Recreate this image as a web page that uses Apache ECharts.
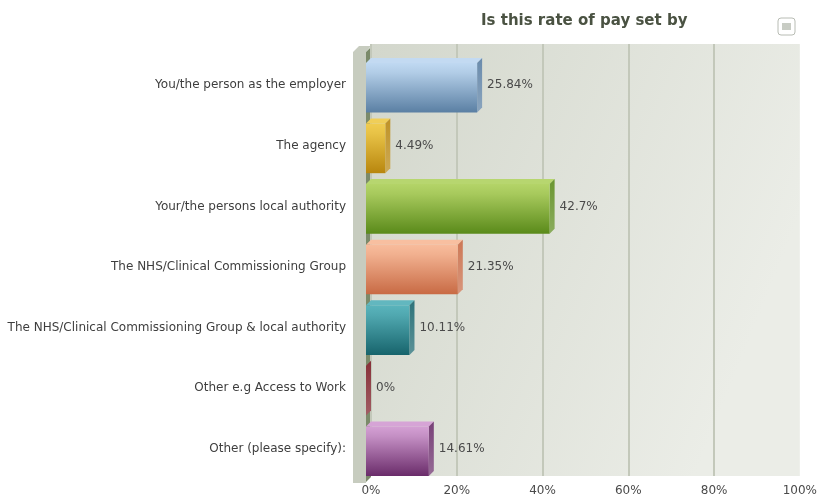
<!DOCTYPE html>
<html>
<head>
<meta charset="utf-8">
<script src="https://cdn.jsdelivr.net/npm/echarts@6/dist/echarts.min.js"></script>
<style>
  html, body { margin: 0; padding: 0; background: #ffffff; }
  #chart { width: 820px; height: 497px; }
</style>
</head>
<body>
<div id="chart"></div>
<script>
// Answer categories, top to bottom
const categories = [
  'You/the person as the employer',
  'The agency',
  'Your/the persons local authority',
  'The NHS/Clinical Commissioning Group',
  'The NHS/Clinical Commissioning Group & local authority',
  'Other e.g Access to Work',
  'Other (please specify):'
];
// Share of responses, percent
const shares = [25.84, 4.49, 42.7, 21.35, 10.11, 0, 14.61];
// Bar colours: [light, dark]
const barColors = [
  ['#c0d9f2', '#5a7fa3'],
  ['#f0cc50', '#b8860e'],
  ['#b4d468', '#5a8a1a'],
  ['#f8bc9c', '#c86a44'],
  ['#5ab4bc', '#17646c'],
  ['#d0505a', '#7a1822'],
  ['#d4a0d4', '#6a2c6a']
];
const xTicks = [0, 20, 40, 60, 80, 100];

const DEPTH = 5;
const FONT = 'DejaVu Sans, Verdana, sans-serif';

const chart = echarts.init(document.getElementById('chart'), null, { renderer: 'canvas' });

// 3D-looking bar: front face, top face, right side face and value label
function renderBar(params, api) {
  const idx = api.value(0);
  const val = api.value(1);
  const start = api.coord([0, idx]);
  const end = api.coord([val, idx]);
  const band = api.size([0, 1])[1];
  const d = DEPTH;
  const h = band * 0.82;
  const x0 = start[0];
  const x1 = end[0];
  const y0 = start[1] - h / 2 + d / 2;
  const y1 = y0 + h;
  const c = barColors[idx];
  return {
    type: 'group',
    children: [
      {
        type: 'polygon',
        shape: { points: [[x0, y0], [x0 + d, y0 - d], [x1 + d, y0 - d], [x1, y0]] },
        style: { fill: echarts.color.lift(c[0], 0.05) }
      },
      {
        type: 'polygon',
        shape: { points: [[x1, y0], [x1 + d, y0 - d], [x1 + d, y1 - d], [x1, y1]] },
        style: {
          fill: new echarts.graphic.LinearGradient(0, 0, 0, 1, [
            { offset: 0, color: echarts.color.lift(c[1], 0.1) },
            { offset: 1, color: echarts.color.lift(c[1], 0.3) }
          ])
        }
      },
      {
        type: 'rect',
        shape: { x: x0, y: y0, width: Math.max(x1 - x0, 0), height: h },
        style: {
          fill: new echarts.graphic.LinearGradient(0, 0, 0, 1, [
            { offset: 0, color: c[0] },
            { offset: 0.2, color: echarts.color.lerp(0.15, [c[0], c[1]]) },
            { offset: 1, color: c[1] }
          ])
        }
      },
      {
        type: 'text',
        style: {
          x: x1 + d + 5,
          y: (y0 + y1) / 2 - d / 2,
          text: val + '%',
          fill: '#4a4a4a',
          font: '12px ' + FONT,
          verticalAlign: 'middle',
          align: 'left'
        }
      }
    ]
  };
}

const option = {
  animation: false,
  backgroundColor: '#ffffff',
  title: {
    text: 'Is this rate of pay set by',
    left: 476,
    top: 9,
    textStyle: { fontFamily: FONT, fontSize: 15, fontWeight: 'bold', color: '#4a5242' }
  },
  graphic: [
    // menu button
    {
      type: 'rect',
      shape: { x: 778, y: 18, width: 17, height: 17, r: 3 },
      style: { fill: '#ffffff', stroke: '#b8bcb4', lineWidth: 1 }
    },
    {
      type: 'rect',
      shape: { x: 782, y: 23, width: 9, height: 7 },
      style: { fill: '#c8ccc4' }
    },
    // left side wall of the plot box
    {
      type: 'polygon',
      shape: { points: [[353, 52], [359, 46], [371, 46], [366, 52], [366, 483], [353, 483]] },
      style: { fill: '#c7ccbf' }
    },
    {
      type: 'polygon',
      shape: { points: [[366, 52], [371, 47], [371, 477], [366, 482]] },
      style: { fill: '#7b8a6a' }
    }
  ],
  grid: [
    {
      // back plane
      left: 371, right: 19, top: 44, bottom: 20,
      show: true,
      borderWidth: 0,
      backgroundColor: new echarts.graphic.LinearGradient(0, 0, 1, 0.4, [
        { offset: 0, color: '#d3d7cc' },
        { offset: 1, color: '#ebede7' }
      ])
    },
    {
      // front plane
      left: 366, right: 24, top: 55, bottom: 18
    }
  ],
  xAxis: [
    {
      gridIndex: 0, type: 'value', min: 0, max: 100, interval: 20,
      axisLine: { show: false }, axisTick: { show: false },
      splitLine: { show: true, showMaxLine: false, lineStyle: { color: '#c3c8ba', width: 2 } },
      axisLabel: {
        formatter: function (v) { return xTicks.indexOf(v) >= 0 ? v + '%' : ''; },
        color: '#4a4a4a', fontFamily: FONT, fontSize: 12, margin: 9
      }
    },
    {
      gridIndex: 1, type: 'value', min: 0, max: 100, interval: 20,
      axisLine: { show: false }, axisTick: { show: false },
      splitLine: { show: false }, axisLabel: { show: false }
    }
  ],
  yAxis: [
    {
      gridIndex: 0, type: 'category', data: categories, inverse: true,
      axisLine: { show: false }, axisTick: { show: false }, axisLabel: { show: false }
    },
    {
      gridIndex: 1, type: 'category', data: categories, inverse: true,
      axisLine: { show: false }, axisTick: { show: false },
      axisLabel: { color: '#3e3e3e', fontFamily: FONT, fontSize: 12, margin: 20 }
    }
  ],
  series: [
    {
      type: 'custom',
      xAxisIndex: 1,
      yAxisIndex: 1,
      renderItem: renderBar,
      encode: { x: 1, y: 0 },
      data: shares.map(function (v, i) { return [i, v]; }),
      clip: false,
      z: 5
    }
  ]
};

chart.setOption(option);
</script>
</body>
</html>
